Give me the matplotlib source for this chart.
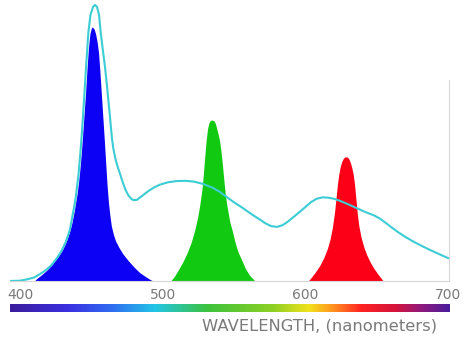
import numpy as np
import matplotlib
matplotlib.use("Agg")
import matplotlib.pyplot as plt
from matplotlib.colors import LinearSegmentedColormap

# values (wavelength nm, relative intensity %)
blue_nm = [410, 412, 415, 419, 423, 427, 430, 433, 435, 436.5, 438, 439, 440, 441, 442, 443,
           444, 445, 446, 447, 448, 449, 450, 450.7, 452, 453, 454, 455, 456, 457, 458,
           459, 460, 461, 462, 463, 464, 465.5, 467, 469.5, 472, 476, 480, 484, 488, 491, 493.2]
blue_val = [0, 1.0, 2.2, 4.0, 6.3, 9.0, 11.5, 15.0, 18.3, 21.3, 25.3, 28.3, 31.5, 35.5, 40.5, 46.5,
            53.5, 61.0, 68.5, 77.0, 84.5, 89.5, 91.6, 92.1, 91.2, 89.5, 86.8, 83.0, 76.0, 68.0, 60.0,
            52.0, 43.5, 35.0, 28.5, 23.8, 20.0, 16.8, 14.5, 12.0, 9.9, 7.3, 5.0, 3.0, 1.6, 0.6, 0]

green_nm = [505.6, 508, 511, 514, 517, 520, 522.5, 524.5, 526, 527.5, 528.5, 529.5, 530.5,
            531.5, 532.5, 533.5, 534.8, 536, 537, 538, 539, 540, 541, 542, 543, 544, 545,
            547, 549, 551, 553, 555.5, 558, 561, 564.7]
green_val = [0, 1.5, 4.0, 6.8, 10.0, 14.0, 18.5, 23.0, 27.5, 33.0, 38.5, 45.0, 51.0,
             55.3, 57.4, 58.2, 58.3, 58.0, 57.0, 55.0, 53.0, 50.5, 46.5, 41.5, 36.0, 31.0, 27.5,
             21.5, 17.8, 13.5, 10.3, 7.5, 4.5, 2.0, 0]

red_nm = [602, 604, 607, 610, 613, 615.5, 617.5, 619, 620.5, 621.5, 622.5, 623.5, 624.5,
          625.5, 626.5, 627.5, 628.5, 629.5, 630.5, 631.5, 632.5, 633.5, 634.5, 635.5, 636.5,
          637.5, 639, 641, 643, 645.5, 648, 651, 654.6]
red_val = [0, 1.2, 3.2, 5.5, 8.5, 11.8, 15.5, 19.5, 25.0, 30.0, 35.0, 38.8, 41.5,
           43.2, 44.3, 44.9, 45.0, 44.9, 44.2, 43.0, 41.2, 38.8, 35.0, 29.5, 24.0,
           20.0, 16.0, 12.3, 9.5, 6.8, 4.6, 2.4, 0]

total_nm = [393, 400, 405, 410, 414, 418, 422, 426, 429, 432, 435, 437.8, 439, 441, 442.5,
            443.5, 444.9, 446.3, 447.9, 449.4, 451.2, 452.6, 454.0, 455.4, 456.6, 458, 459.6,
            461, 462.5, 463.5, 464.5, 465.5, 467, 468.5, 470, 472, 474, 476, 478, 479.4, 482,
            486, 490, 494, 498, 504, 510, 516, 522, 528, 535, 540, 545, 550, 556, 562, 568,
            572, 576, 580, 584, 588, 592, 596, 600, 604, 608, 612, 616, 620, 625, 630, 636,
            642, 648, 652, 656, 660, 665, 670, 676, 682, 688, 694, 700]
total_val = [0, 0.1, 0.6, 1.3, 2.5, 3.9, 5.7, 8.4, 10.8, 14.0, 18.6, 26.4, 30.0, 38.5, 47.5,
             54.5, 65.6, 77.5, 89.9, 96.4, 99.3, 100, 99.3, 96.4, 89.9, 84.0, 77.5,
             70.5, 62.5, 57.0, 51.5, 47.8, 44.0, 41.3, 39.0, 35.8, 33.0, 31.0, 29.8, 29.3, 29.4,
             31.0, 32.6, 33.9, 34.9, 35.8, 36.2, 36.3, 36.0, 35.2, 33.8, 32.3, 30.4, 28.5, 26.5, 24.3, 22.3,
             20.9, 19.9, 19.6, 20.2, 21.6, 23.3, 25.0, 26.8, 28.6, 29.8, 30.3, 30.2, 29.8, 28.9, 27.8, 26.4,
             25.0, 23.8, 22.7, 21.2, 19.6, 17.7, 16.0, 14.2, 12.6, 11.1, 9.7, 8.3]

tick_nm = [400, 500, 600, 700]

# rainbow for the wavelength bar
bar_colors = ["#3b1c9c", "#3a2fe0", "#2f6cf0", "#22c6e6", "#3cc23c", "#8fd024",
              "#f2e21e", "#ff9a1e", "#ff2222", "#d2143e", "#8c1a80", "#4a1c9c"]
bar_pos = [0.0, 0.13, 0.23, 0.33, 0.45, 0.6, 0.68, 0.73, 0.8, 0.88, 0.94, 1.0]

fig = plt.figure(figsize=(4.66, 3.40), dpi=100)
ax = fig.add_axes([10 / 466, 1 - 281 / 340, 439 / 466, 281 / 340])

ax.fill_between(blue_nm, blue_val, color="#0c00f5", lw=0)
ax.fill_between(green_nm, green_val, color="#12c912", lw=0)
ax.fill_between(red_nm, red_val, color="#fc0018", lw=0)
ax.plot(total_nm, total_val, color="#3ccdd4", lw=1.5, solid_joinstyle="round")

ax.set_xlim(393, 700.7)
ax.set_ylim(0, 101.8)
ax.set_yticks([])
ax.set_xticks(tick_nm)
ax.tick_params(axis="x", length=0, pad=5, labelsize=10, labelcolor="#7a7a7a")
for s in ["top", "left"]:
    ax.spines[s].set_visible(False)
ax.spines["bottom"].set_color("#d6d6d6")
ax.spines["right"].set_color("#d6d6d6")
ax.spines["right"].set_bounds(0, 72.8)

# wavelength colour bar
cmap = LinearSegmentedColormap.from_list("spec", list(zip(bar_pos, bar_colors)))
cax = fig.add_axes([10 / 466, 1 - 312 / 340, 440 / 466, 8 / 340])
cax.imshow(np.linspace(0, 1, 512)[None, :], aspect="auto", cmap=cmap)
cax.axis("off")

fig.text(437 / 466, 1 - 326 / 340, "WAVELENGTH, (nanometers)", ha="right", va="center",
         fontsize=11.8, color="#7a7a7a")

fig.savefig("out.png", dpi=100)
